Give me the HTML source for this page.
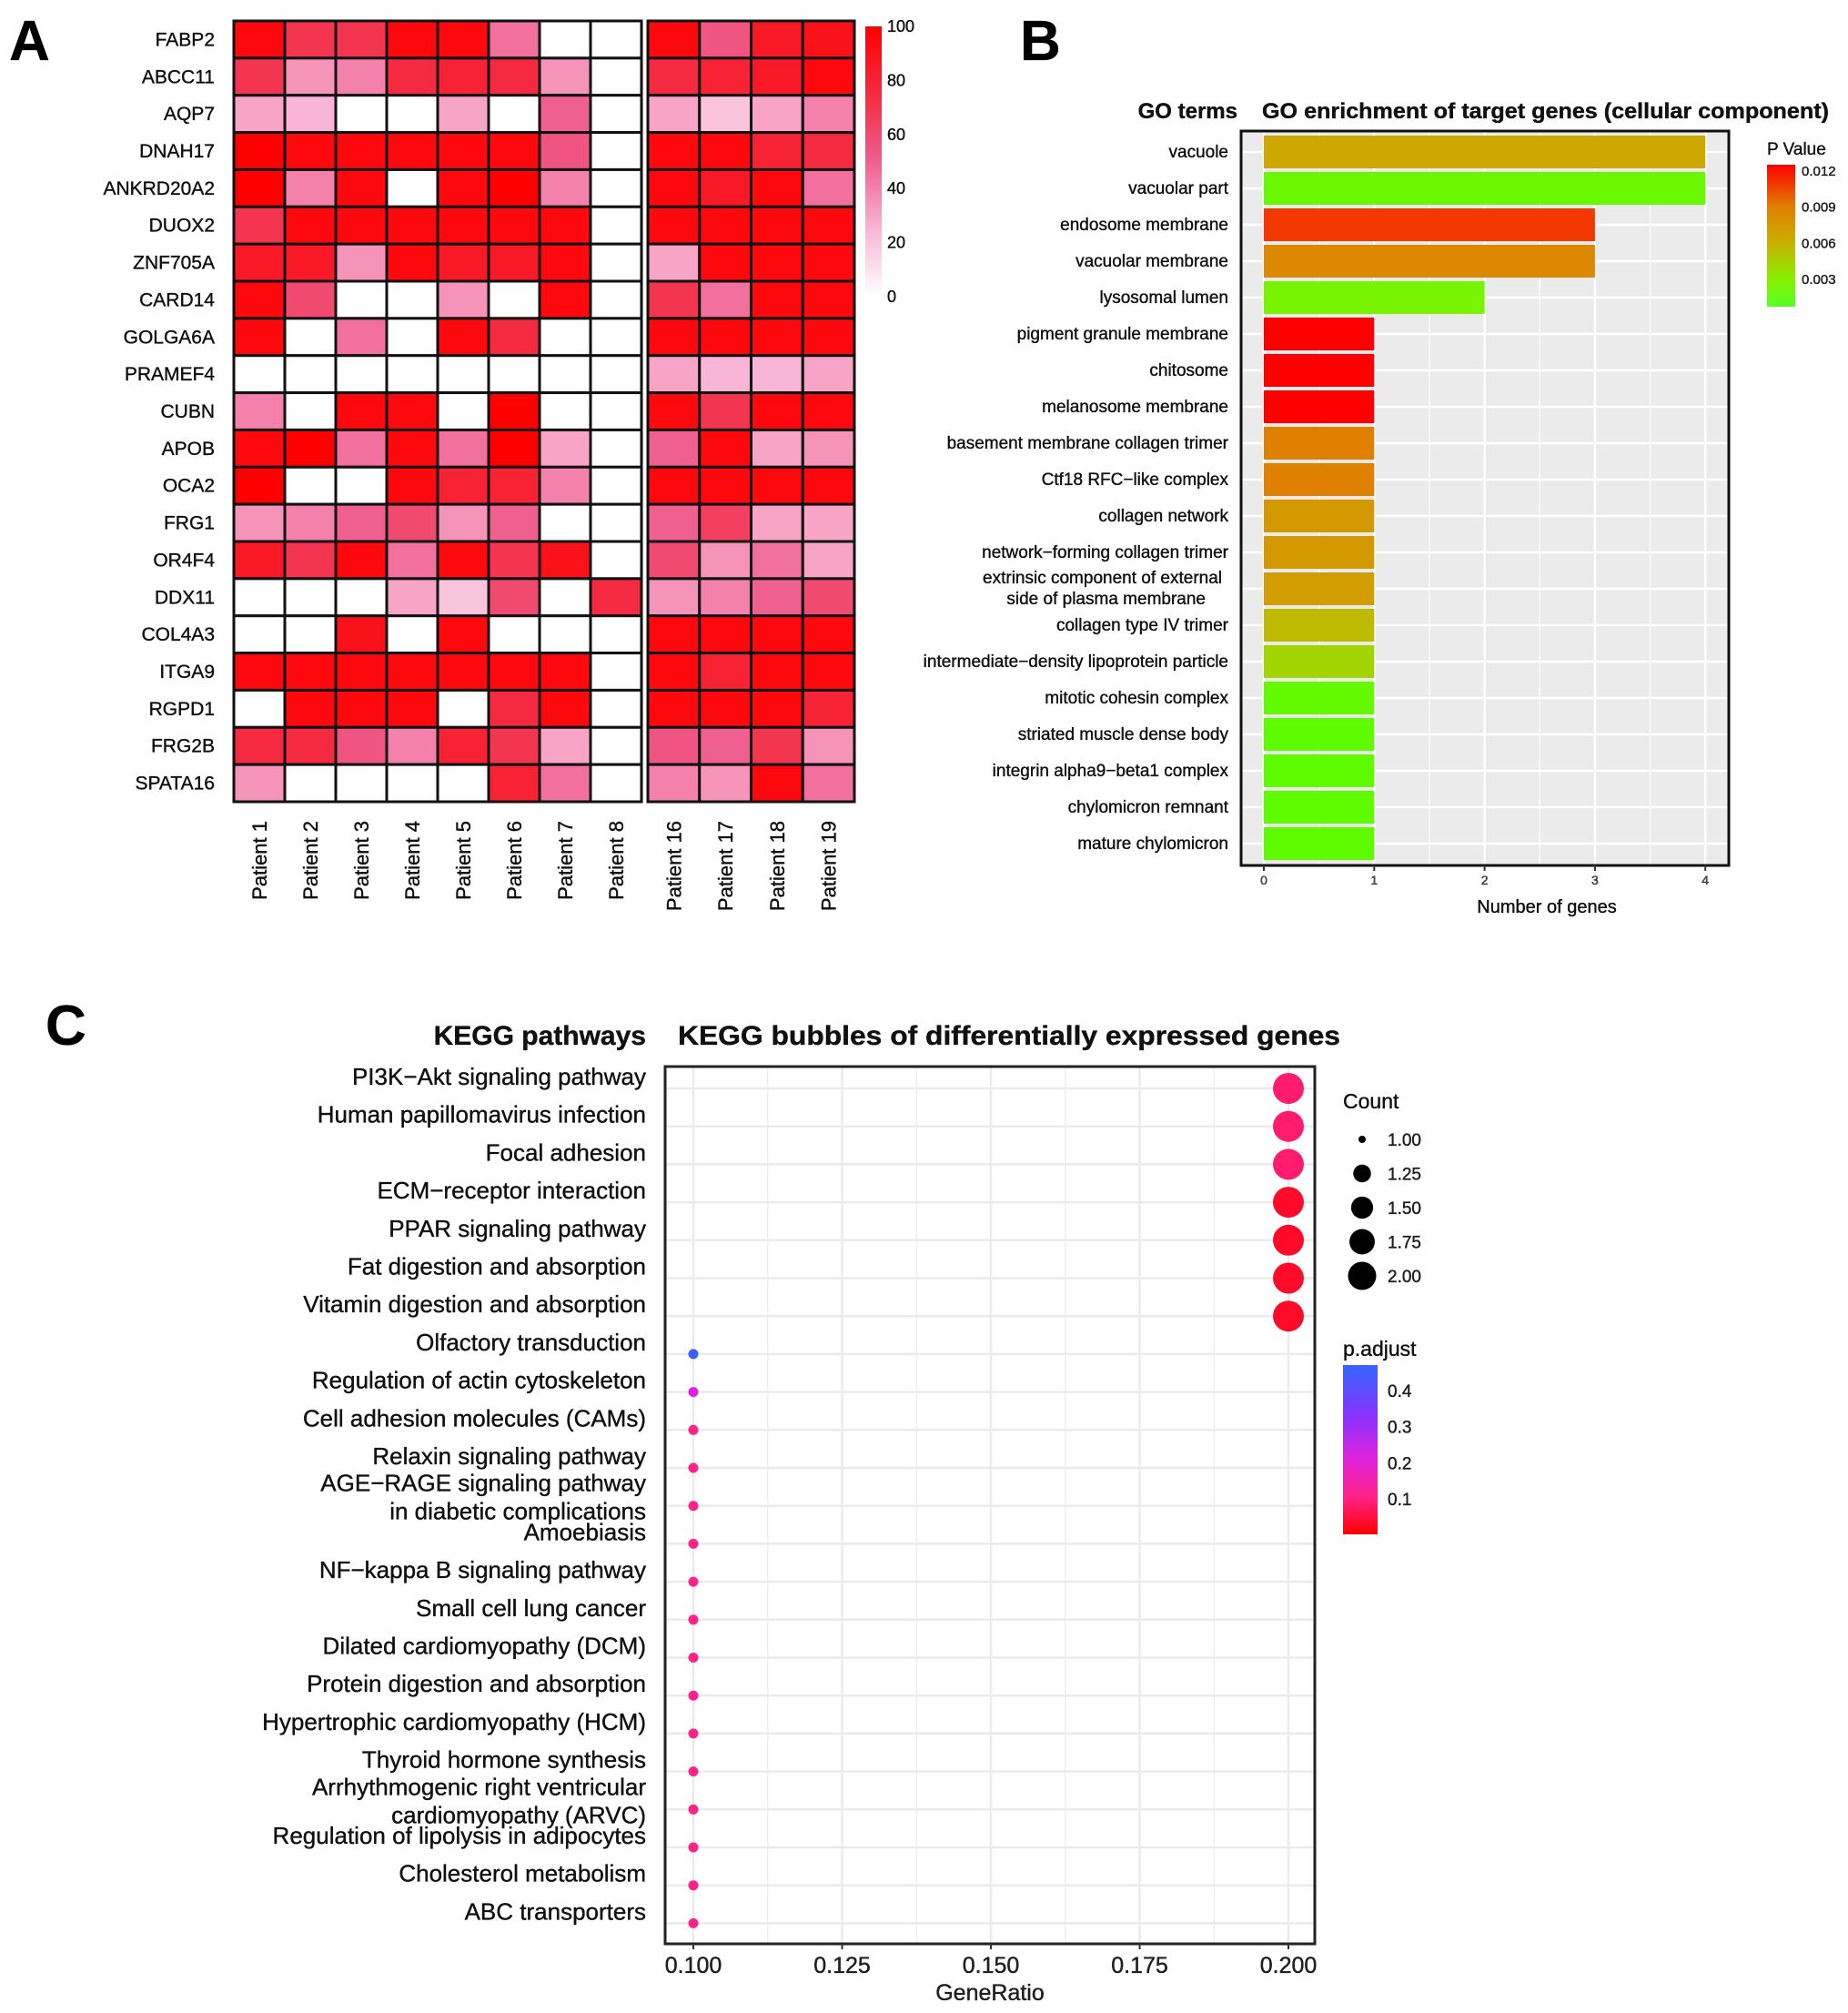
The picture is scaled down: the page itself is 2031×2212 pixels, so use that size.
<!DOCTYPE html>
<html><head><meta charset="utf-8"><style>
body{margin:0;background:#fff}
svg{display:block;font-family:"Liberation Sans",Arial,sans-serif}
text{stroke:currentColor;stroke-width:0.35}
</style></head><body>
<svg id="fig" width="2031" height="2212" viewBox="0 0 2031 2212" xmlns="http://www.w3.org/2000/svg">
<defs>
<linearGradient id="gA" x1="0" y1="0" x2="0" y2="1"><stop offset="0" stop-color="#ff0000"/><stop offset="0.25" stop-color="#f52a40"/><stop offset="0.5" stop-color="#ef5f90"/><stop offset="0.75" stop-color="#f9b5d5"/><stop offset="1" stop-color="#ffffff"/></linearGradient>
<linearGradient id="gB" x1="0" y1="0" x2="0" y2="1"><stop offset="0" stop-color="#ff0000"/><stop offset="0.3" stop-color="#e08000"/><stop offset="0.55" stop-color="#c8b000"/><stop offset="0.8" stop-color="#88ee00"/><stop offset="1" stop-color="#55ff22"/></linearGradient>
<linearGradient id="gC" x1="0" y1="0" x2="0" y2="1"><stop offset="0" stop-color="#3366ff"/><stop offset="0.3" stop-color="#8833ff"/><stop offset="0.55" stop-color="#dd22dd"/><stop offset="0.78" stop-color="#ff2288"/><stop offset="1" stop-color="#ff0000"/></linearGradient>
</defs>
<text x="10" y="66" font-size="62" font-weight="bold">A</text>
<text x="1121" y="66" font-size="62" font-weight="bold">B</text>
<text x="50" y="1148" font-size="62" font-weight="bold">C</text>
<g id="A"></g>
<g id="B"></g>
<g id="C"></g>
</svg>
<script>
const genes=["FABP2","ABCC11","AQP7","DNAH17","ANKRD20A2","DUOX2","ZNF705A","CARD14","GOLGA6A","PRAMEF4","CUBN","APOB","OCA2","FRG1","OR4F4","DDX11","COL4A3","ITGA9","RGPD1","FRG2B","SPATA16"];
const patientsLeft=["Patient 1","Patient 2","Patient 3","Patient 4","Patient 5","Patient 6","Patient 7","Patient 8"];
const patientsRight=["Patient 16","Patient 17","Patient 18","Patient 19"];
const heatValues=[
[95,70,70,95,95,45,0,0,95,55,85,90],
[70,35,40,75,80,75,35,0,75,80,85,95],
[30,25,0,0,30,0,50,0,30,20,30,40],
[100,95,95,95,95,95,55,0,95,95,80,75],
[100,40,95,0,95,100,40,0,95,85,95,45],
[70,95,95,95,95,95,95,0,95,95,95,95],
[85,85,35,95,85,85,95,0,30,95,95,95],
[95,60,0,0,35,0,95,0,70,45,95,95],
[95,0,45,0,95,75,0,0,95,95,95,95],
[0,0,0,0,0,0,0,0,30,25,25,30],
[40,0,95,95,0,100,0,0,95,70,95,95],
[95,100,45,95,45,100,30,0,50,95,30,35],
[100,0,0,95,80,80,40,0,95,95,95,95],
[35,40,50,60,35,50,0,0,50,65,30,30],
[85,70,95,45,95,70,90,0,60,35,45,30],
[0,0,0,30,20,60,0,75,35,40,50,60],
[0,0,90,0,95,0,0,0,95,95,95,95],
[95,95,95,95,95,95,95,0,95,80,95,95],
[0,95,95,95,0,75,95,0,95,95,95,80],
[75,75,55,40,80,70,30,0,55,50,70,35],
[35,0,0,0,0,80,45,0,40,35,95,45]];
const heatTicks=[100,80,60,40,20,0];

const goTerms=["vacuole","vacuolar part","endosome membrane","vacuolar membrane","lysosomal lumen","pigment granule membrane","chitosome","melanosome membrane","basement membrane collagen trimer","Ctf18 RFC\u2212like complex","collagen network","network\u2212forming collagen trimer","extrinsic component of external|side of plasma membrane","collagen type IV trimer","intermediate\u2212density lipoprotein particle","mitotic cohesin complex","striated muscle dense body","integrin alpha9\u2212beta1 complex","chylomicron remnant","mature chylomicron"];
const goCounts=[4,4,3,3,2,1,1,1,1,1,1,1,1,1,1,1,1,1,1,1];
const goPvalues=[0.0065,0.0015,0.011,0.0085,0.0022,0.0125,0.0125,0.0125,0.009,0.009,0.0075,0.0075,0.0072,0.0055,0.0042,0.0012,0.0010,0.0010,0.0010,0.0010];
const goXTicks=[0,1,2,3,4];
const goPTicks=[0.012,0.009,0.006,0.003];

const keggTerms=["PI3K\u2212Akt signaling pathway","Human papillomavirus infection","Focal adhesion","ECM\u2212receptor interaction","PPAR signaling pathway","Fat digestion and absorption","Vitamin digestion and absorption","Olfactory transduction","Regulation of actin cytoskeleton","Cell adhesion molecules (CAMs)","Relaxin signaling pathway","AGE\u2212RAGE signaling pathway|in diabetic complications","Amoebiasis","NF\u2212kappa B signaling pathway","Small cell lung cancer","Dilated cardiomyopathy (DCM)","Protein digestion and absorption","Hypertrophic cardiomyopathy (HCM)","Thyroid hormone synthesis","Arrhythmogenic right ventricular |cardiomyopathy (ARVC)","Regulation of lipolysis in adipocytes","Cholesterol metabolism","ABC transporters"];
const keggRatio=[0.2,0.2,0.2,0.2,0.2,0.2,0.2,0.1,0.1,0.1,0.1,0.1,0.1,0.1,0.1,0.1,0.1,0.1,0.1,0.1,0.1,0.1,0.1];
const keggCount=[2,2,2,2,2,2,2,1,1,1,1,1,1,1,1,1,1,1,1,1,1,1,1];
const keggPadj=[0.08,0.08,0.08,0.03,0.03,0.03,0.03,0.45,0.2,0.1,0.1,0.1,0.1,0.1,0.1,0.1,0.1,0.1,0.1,0.1,0.1,0.1,0.1];
const keggXTicks=[0.1,0.125,0.15,0.175,0.2];
const countLegend=[1,1.25,1.5,1.75,2];
const padjTicks=[0.4,0.3,0.2,0.1];

const NS="http://www.w3.org/2000/svg";
function mk(parent,tag,attrs,txt){const e=document.createElementNS(NS,tag);for(const k in attrs)e.setAttribute(k,attrs[k]);if(txt!==undefined)e.textContent=txt;parent.appendChild(e);return e;}
function hex(h){return [parseInt(h.slice(1,3),16),parseInt(h.slice(3,5),16),parseInt(h.slice(5,7),16)];}
function interp(stops,v){for(let i=0;i<stops.length-1;i++){const a=stops[i],b=stops[i+1];if(v<=b[0]||i===stops.length-2){let t=(v-a[0])/(b[0]-a[0]);t=Math.max(0,Math.min(1,t));const ca=hex(a[1]),cb=hex(b[1]);return "rgb("+ca.map((c,j)=>Math.round(c+(cb[j]-c)*t)).join(",")+")";}}}
const heatStops=[[0,"#ffffff"],[25,"#f9b5d5"],[50,"#ef5f90"],[75,"#f52a40"],[100,"#ff0000"]];
const goStops=[[0.0005,"#55ff00"],[0.003,"#88ee00"],[0.006,"#c8b000"],[0.009,"#e08000"],[0.0125,"#ff0000"]];
const padjStops=[[0,"#ff0000"],[0.1,"#ff2288"],[0.2,"#dd22dd"],[0.32,"#8833ff"],[0.47,"#3366ff"]];

// ---- Panel A ----
const A=document.getElementById("A");
const hTop=23,hBot=881,rowH=(hBot-hTop)/genes.length;
const lx0=257,lx1=705,rx0=712,rx1=939;
const lw=(lx1-lx0)/patientsLeft.length,rw=(rx1-rx0)/patientsRight.length;
function colX(j){return j<8?lx0+j*lw:rx0+(j-8)*rw;}
function colW(j){return j<8?lw:rw;}
genes.forEach((g,i)=>{
  const t=mk(A,"text",{x:236,y:hTop+(i+0.5)*rowH+7,"font-size":21,"text-anchor":"end",fill:"#111"},g);
  
  
  heatValues[i].forEach((v,j)=>{
    const r=mk(A,"rect",{x:colX(j),y:hTop+i*rowH,width:colW(j),height:rowH,fill:interp(heatStops,v),stroke:"#111","stroke-width":3});
    
    
  });
});
const allP=patientsLeft.concat(patientsRight);
allP.forEach((p,j)=>{
  const cx=colX(j)+colW(j)/2+8;
  const t=mk(A,"text",{x:0,y:0,"font-size":22,"text-anchor":"end",fill:"#111",transform:"translate("+cx+",902) rotate(-90)"},p);
  
  
});
const cbA=mk(A,"rect",{x:951,y:29,width:18,height:297,fill:"url(#gA)"});


heatTicks.forEach(v=>{
  const y=326-v/100*297;
  const t=mk(A,"text",{x:975,y:y+6,"font-size":18,fill:"#111"},String(v));
  
  
});

// ---- Panel B ----
const B=document.getElementById("B");
const bx0=1364,bx1=1900,by0=144,by1=951;
const bxs=v=>1389+v*121.3;
const brow=i=>167+i*40;
let e=mk(B,"rect",{x:bx0,y:by0,width:bx1-bx0,height:by1-by0,fill:"#ebebeb"});


for(let v=0;v<=4.5;v+=0.5){mk(B,"line",{x1:bxs(v),x2:bxs(v),y1:by0,y2:by1,stroke:"#fff","stroke-width":v%1===0?2.5:1.2});}
goTerms.forEach((g,i)=>{mk(B,"line",{x1:bx0,x2:bx1,y1:brow(i),y2:brow(i),stroke:"#fff","stroke-width":2.5});});
goTerms.forEach((g,i)=>{
  const r=mk(B,"rect",{x:bxs(0),y:brow(i)-18,width:bxs(goCounts[i])-bxs(0),height:36,fill:interp(goStops,goPvalues[i])});
  
  
  const parts=g.split("|");
  parts.forEach((s,k)=>{
    const y=parts.length===1?brow(i)+6:brow(i)-6+k*23;
    const t=mk(B,"text",{x:parts.length===1?1350:1343-(k?18:0),y:y,"font-size":19,"text-anchor":"end",fill:"#111"},s);
    
    
  });
});
e=mk(B,"rect",{x:bx0,y:by0,width:bx1-bx0,height:by1-by0,fill:"none",stroke:"#111","stroke-width":3});


goXTicks.forEach(v=>{
  mk(B,"line",{x1:bxs(v),x2:bxs(v),y1:by1,y2:by1+6,stroke:"#333","stroke-width":2});
  const t=mk(B,"text",{x:bxs(v),y:972,"font-size":14,"text-anchor":"middle",fill:"#555"},String(v));
  
  
});
e=mk(B,"text",{x:1700,y:1003,"font-size":20,"text-anchor":"middle",fill:"#111"},"Number of genes");


e=mk(B,"text",{x:1360,y:130,"font-size":24,"font-weight":"bold","text-anchor":"end",fill:"#111"},"GO terms");


e=mk(B,"text",{x:1387,y:130,"font-size":24,"font-weight":"bold",fill:"#111",textLength:623,lengthAdjust:"spacingAndGlyphs"},"GO enrichment of target genes (cellular component)");


e=mk(B,"text",{x:1942,y:170,"font-size":19,fill:"#111"},"P Value");


e=mk(B,"rect",{x:1942,y:181,width:31,height:156,fill:"url(#gB)"});


goPTicks.forEach(v=>{
  const y=188+(0.012-v)/0.003*39.7;
  const t=mk(B,"text",{x:1980,y:y+5,"font-size":15,fill:"#222"},v.toFixed(3));
  
  
});

// ---- Panel C ----
const C=document.getElementById("C");
const cx0=731,cx1=1445,cy0=1172,cy1=2136;
const cxs=v=>762+(v-0.1)/0.1*654;
const crow=i=>1196+i*41.7;
for(let v=0.1;v<=0.2001;v+=0.0125){mk(C,"line",{x1:cxs(v),x2:cxs(v),y1:cy0,y2:cy1,stroke:"#ebebeb","stroke-width":Math.abs((v*1000)%25)<1||Math.abs((v*1000)%25-25)<1?2.5:1.2});}
keggTerms.forEach((k,i)=>{mk(C,"line",{x1:cx0,x2:cx1,y1:crow(i),y2:crow(i),stroke:"#ebebeb","stroke-width":2.5});});
keggTerms.forEach((k,i)=>{
  const parts=k.split("|");
  parts.forEach((s,m)=>{
    const y=parts.length===1?crow(i)-4:crow(i)-16+m*31;
    const t=mk(C,"text",{x:710,y:y,"font-size":26,"text-anchor":"end",fill:"#111"},s);
    
    
  });
  const c=mk(C,"circle",{cx:cxs(keggRatio[i]),cy:crow(i),r:5.5+(keggCount[i]-1)*11.5,fill:interp(padjStops,keggPadj[i])});
  
  
});
e=mk(C,"rect",{x:cx0,y:cy0,width:cx1-cx0,height:cy1-cy0,fill:"none",stroke:"#222","stroke-width":3});


keggXTicks.forEach(v=>{
  mk(C,"line",{x1:cxs(v),x2:cxs(v),y1:cy1,y2:cy1+6,stroke:"#333","stroke-width":2});
  const t=mk(C,"text",{x:cxs(v),y:2168,"font-size":25,"text-anchor":"middle",fill:"#222"},v.toFixed(3));
  
  
});
e=mk(C,"text",{x:1088,y:2198,"font-size":25,"text-anchor":"middle",fill:"#222"},"GeneRatio");


e=mk(C,"text",{x:710,y:1148,"font-size":30,"font-weight":"bold","text-anchor":"end",fill:"#111"},"KEGG pathways");


e=mk(C,"text",{x:745,y:1148,"font-size":30,"font-weight":"bold",fill:"#111",textLength:728,lengthAdjust:"spacingAndGlyphs"},"KEGG bubbles of differentially expressed genes");


e=mk(C,"text",{x:1476,y:1218,"font-size":23,fill:"#111"},"Count");


countLegend.forEach((v,i)=>{
  const y=1252+i*37.5;
  const c=mk(C,"circle",{cx:1497,cy:y,r:4+Math.sqrt(v-1)*11.5,fill:"#000"});
  
  
  const t=mk(C,"text",{x:1525,y:y+7,"font-size":19,fill:"#222"},v.toFixed(2));
  
  
});
e=mk(C,"text",{x:1476,y:1490,"font-size":23,fill:"#111"},"p.adjust");


e=mk(C,"rect",{x:1476,y:1500,width:38,height:186,fill:"url(#gC)"});


padjTicks.forEach(v=>{
  const y=1647-(v-0.1)/0.1*39.7;
  const t=mk(C,"text",{x:1525,y:y+7,"font-size":19,fill:"#222"},String(v));
  
  
});
</script>
</body></html>
